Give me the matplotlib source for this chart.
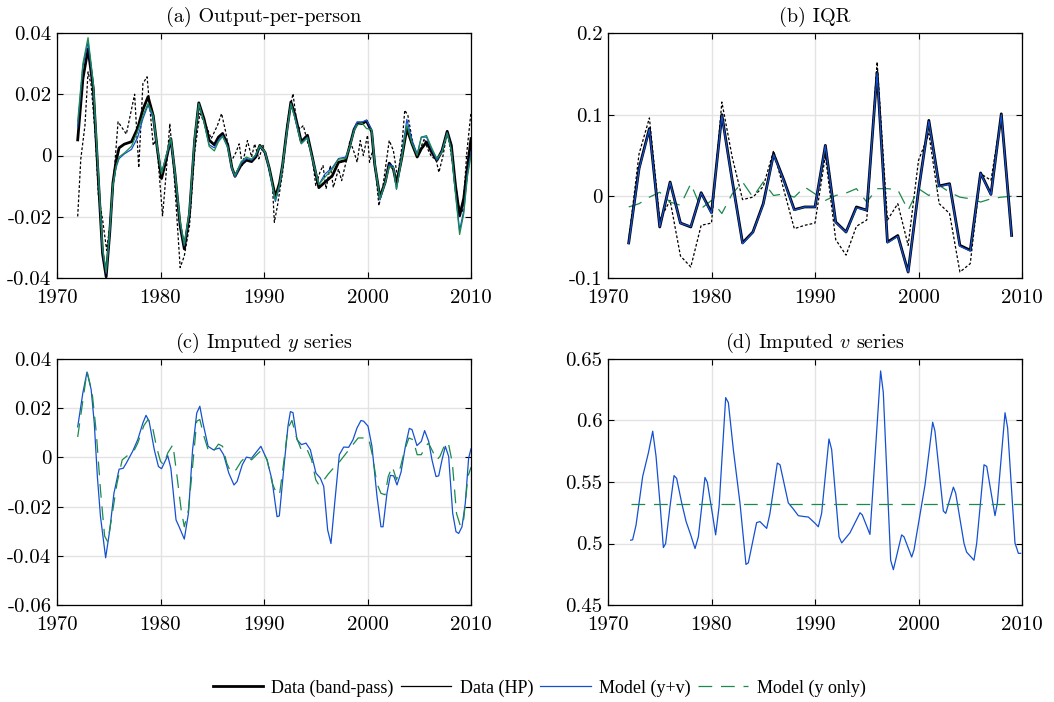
import matplotlib
matplotlib.use("Agg")
import matplotlib.pyplot as plt
from matplotlib.lines import Line2D
from matplotlib.ticker import MultipleLocator, FuncFormatter

plt.rcParams['font.family'] = ['cmr10', 'DejaVu Serif']
plt.rcParams['mathtext.fontset'] = 'cm'
plt.rcParams['axes.unicode_minus'] = False

# ---------------- Panel (a): Output-per-person ----------------
a_x = [1972.0, 1972.5, 1973.0, 1973.5, 1974.0, 1974.4, 1974.75, 1975.1, 1975.4, 1975.7,
       1976.0, 1976.5, 1977.2, 1977.8, 1978.3, 1978.8, 1979.3, 1979.7, 1980.1, 1980.5,
       1981.0, 1981.4, 1981.9, 1982.3, 1982.8, 1983.3, 1983.7, 1984.2, 1984.7, 1985.2,
       1985.6, 1986.0, 1986.5, 1986.9, 1987.2, 1987.8, 1988.3, 1988.8, 1989.2, 1989.6,
       1990.1, 1990.5, 1991.1, 1991.5, 1991.8, 1992.2, 1992.6, 1993.0, 1993.6, 1994.2,
       1994.6, 1995.3, 1995.9, 1996.6, 1997.2, 1997.9, 1998.3, 1998.7, 1999.0, 1999.5,
       1999.9, 2000.4, 2000.7, 2001.2, 2001.7, 2002.1, 2002.5, 2002.8, 2003.3, 2003.8,
       2004.3, 2004.8, 2005.2, 2005.7, 2006.2, 2006.7, 2007.2, 2007.7, 2008.1, 2008.5,
       2008.9, 2009.3, 2009.65, 2010.0]
a_bandpass = [0.0051, 0.0250, 0.0348, 0.0220, -0.0080, -0.0320, -0.0396, -0.0250, -0.0090, -0.0020,
              0.0025, 0.0037, 0.0045, 0.0090, 0.0150, 0.0192, 0.0130, 0.0020, -0.0075, -0.0020,
              0.0055, -0.0060, -0.0230, -0.0305, -0.0190, 0.0050, 0.0172, 0.0120, 0.0050, 0.0035,
              0.0060, 0.0072, 0.0035, -0.0040, -0.0068, -0.0030, -0.0015, -0.0020, -0.0005, 0.0033,
              0.0010, -0.0040, -0.0135, -0.0090, -0.0030, 0.0080, 0.0175, 0.0132, 0.0045, 0.0066,
              0.0005, -0.0105, -0.0087, -0.0066, -0.0022, -0.0016, 0.0033, 0.0085, 0.0104, 0.0104,
              0.0113, 0.0078, -0.0030, -0.0137, -0.0088, -0.0025, -0.0044, -0.0093, -0.0010, 0.0088,
              0.0038, -0.0005, 0.0022, 0.0044, 0.0011, -0.0016, 0.0016, 0.0079, 0.0033, -0.0098,
              -0.0197, -0.0140, -0.0040, 0.0055]
a_model_yv = [0.0095, 0.0290, 0.0370, 0.0230, -0.0070, -0.0310, -0.0385, -0.0250, -0.0100, -0.0040,
              -0.0010, 0.0005, 0.0020, 0.0060, 0.0120, 0.0165, 0.0120, 0.0020, -0.0055, -0.0010,
              0.0050, -0.0060, -0.0220, -0.0295, -0.0185, 0.0055, 0.0170, 0.0110, 0.0035, 0.0025,
              0.0050, 0.0065, 0.0030, -0.0045, -0.0070, -0.0025, -0.0010, -0.0015, 0.0000, 0.0030,
              0.0010, -0.0045, -0.0150, -0.0100, -0.0035, 0.0075, 0.0170, 0.0125, 0.0040, 0.0060,
              0.0000, -0.0095, -0.0060, -0.0040, -0.0010, -0.0005, 0.0030, 0.0085, 0.0110, 0.0110,
              0.0115, 0.0085, -0.0030, -0.0145, -0.0090, -0.0030, -0.0035, -0.0110, -0.0005, 0.0118,
              0.0050, 0.0005, 0.0060, 0.0060, 0.0020, -0.0015, 0.0015, 0.0075, 0.0020, -0.0120,
              -0.0245, -0.0180, -0.0060, 0.0010]
a_model_y = [0.0110, 0.0300, 0.0385, 0.0240, -0.0060, -0.0300, -0.0380, -0.0240, -0.0095, -0.0035,
             -0.0005, 0.0008, 0.0030, 0.0080, 0.0130, 0.0170, 0.0130, 0.0025, -0.0060, -0.0005,
             0.0057, -0.0055, -0.0215, -0.0290, -0.0180, 0.0060, 0.0168, 0.0110, 0.0030, 0.0015,
             0.0045, 0.0062, 0.0025, -0.0040, -0.0065, -0.0020, -0.0005, -0.0012, 0.0003, 0.0032,
             0.0012, -0.0040, -0.0145, -0.0095, -0.0030, 0.0075, 0.0168, 0.0120, 0.0038, 0.0058,
             0.0000, -0.0095, -0.0070, -0.0045, -0.0012, -0.0010, 0.0030, 0.0080, 0.0100, 0.0105,
             0.0088, 0.0085, -0.0025, -0.0140, -0.0090, -0.0035, -0.0040, -0.0110, -0.0010, 0.0100,
             0.0040, 0.0000, 0.0060, 0.0065, 0.0025, -0.0010, 0.0010, 0.0072, 0.0015, -0.0125,
             -0.0258, -0.0190, -0.0070, 0.0000]

a_hp_x = [1972.0, 1972.3, 1972.7, 1973.0, 1973.3, 1973.7, 1974.0, 1974.4, 1974.8, 1975.1,
          1975.5, 1975.9, 1976.3, 1976.7, 1977.5, 1977.9, 1978.3, 1978.7, 1979.3, 1979.6,
          1980.2, 1980.5, 1980.9, 1981.3, 1981.9, 1982.3, 1982.8, 1983.3, 1983.8, 1984.4,
          1984.9, 1985.5, 1985.9, 1986.3, 1986.8, 1987.3, 1987.6, 1987.9, 1988.4, 1988.8,
          1989.1, 1989.5, 1989.9, 1990.3, 1990.8, 1991.0, 1991.3, 1991.8, 1992.3, 1992.8,
          1993.2, 1993.5, 1993.8, 1994.2, 1994.6, 1995.0, 1995.4, 1995.7, 1996.0, 1996.4,
          1996.7, 1997.2, 1997.5, 1998.0, 1998.3, 1998.7, 1999.0, 1999.3, 1999.6, 2000.0,
          2000.2, 2000.5, 2000.8, 2001.1, 2001.5, 2001.9, 2002.1, 2002.5, 2002.9, 2003.3,
          2003.6, 2003.9, 2004.3, 2004.7, 2005.1, 2005.5, 2005.8, 2006.2, 2006.6, 2006.9,
          2007.3, 2007.7, 2008.0, 2008.4, 2008.8, 2009.2, 2009.6, 2010.0]
a_hp = [-0.0199, -0.0011, 0.0098, 0.0273, 0.0230, 0.0066, -0.0131, -0.0208, -0.0310, -0.0230,
        -0.0066, 0.0110, 0.0090, 0.0070, 0.0200, -0.0040, 0.0235, 0.0257, 0.0033, 0.0055,
        -0.0197, -0.0077, 0.0104, -0.0055, -0.0366, -0.0328, -0.0230, 0.0011, 0.0137, 0.0098,
        0.0055, 0.0098, 0.0137, 0.0077, -0.0022, 0.0011, 0.0038, -0.0033, 0.0049, -0.0005,
        0.0038, -0.0011, 0.0033, -0.0022, -0.0087, -0.0218, -0.0164, -0.0055, 0.0120, 0.0202,
        0.0098, 0.0087, 0.0098, 0.0044, 0.0011, -0.0098, -0.0055, -0.0033, -0.0109, -0.0033,
        -0.0104, -0.0044, -0.0082, -0.0011, 0.0049, 0.0011, -0.0022, 0.0049, 0.0000, 0.0066,
        -0.0022, 0.0016, -0.0055, -0.0164, -0.0098, 0.0000, 0.0049, 0.0016, -0.0071, 0.0022,
        0.0148, 0.0131, 0.0055, 0.0000, 0.0022, 0.0055, 0.0022, -0.0005, -0.0011, -0.0055,
        0.0000, 0.0077, 0.0022, -0.0066, -0.0164, -0.0186, 0.0011, 0.0142]

# ---------------- Panel (b): IQR (annual) ----------------
b_years = list(range(1972, 2010))
b_bandpass = [-0.057, 0.034, 0.083, -0.0375, 0.0175, -0.0327, -0.0375, 0.0045, -0.020, 0.100,
              0.0196, -0.057, -0.0437, -0.009, 0.052, 0.0196, -0.0163, -0.013, -0.013, 0.0624,
              -0.0314, -0.0437, -0.013, -0.017, 0.152, -0.056, -0.048, -0.0927, 0.0073, 0.093,
              0.0127, 0.0155, -0.060, -0.066, 0.0286, 0.0024, 0.101, -0.048]
b_model_yv = [-0.058, 0.033, 0.082, -0.0370, 0.0170, -0.0330, -0.0370, 0.0040, -0.021, 0.099,
              0.0190, -0.058, -0.0440, -0.010, 0.051, 0.0190, -0.0170, -0.013, -0.013, 0.0620,
              -0.0320, -0.0440, -0.014, -0.017, 0.151, -0.057, -0.049, -0.0930, 0.0070, 0.092,
              0.0120, 0.0150, -0.061, -0.067, 0.0280, 0.0020, 0.100, -0.049]
b_hp = [-0.054, 0.052, 0.096, -0.029, -0.005, -0.073, -0.0865, -0.0355, -0.0327, 0.1155,
        0.048, -0.004, -0.001, 0.012, 0.056, 0.0073, -0.0396, -0.0355, -0.0327, 0.050,
        -0.053, -0.072, -0.0367, -0.029, 0.1645, -0.029, -0.009, -0.060, 0.044, 0.0767,
        -0.009, -0.021, -0.0927, -0.0824, 0.0278, 0.0196, 0.099, -0.046]
b_model_y = [-0.013, -0.009, -0.001, 0.005, -0.007, -0.011, 0.0155, -0.015, -0.005, -0.021,
             0.003, 0.0176, -0.001, 0.0176, 0.001, 0.003, -0.001, 0.0114, 0.003, -0.005,
             0.001, 0.004, 0.0094, -0.007, 0.0094, 0.0094, 0.008, -0.017, 0.0094, 0.001,
             0.0135, 0.005, -0.001, -0.003, -0.007, -0.003, -0.001, 0.000]

# ---------------- Panel (c): Imputed y series ----------------
c_yv_x = [1972.0, 1972.5, 1972.9, 1973.3, 1973.6, 1973.9, 1974.2, 1974.7, 1975.1, 1975.5,
          1976.0, 1976.4, 1976.7, 1977.3, 1977.8, 1978.3, 1978.6, 1978.9, 1979.4, 1979.8,
          1980.1, 1980.7, 1981.0, 1981.5, 1981.8, 1982.3, 1982.7, 1983.1, 1983.5, 1983.8,
          1984.1, 1984.6, 1985.1, 1985.7, 1986.1, 1986.6, 1987.1, 1987.4, 1987.9, 1988.3,
          1988.8, 1989.3, 1989.7, 1990.29, 1990.77, 1991.26, 1991.48, 1991.9, 1992.32, 1992.55,
          1992.8, 1993.19, 1993.61, 1994.06, 1994.48, 1995.02, 1995.44, 1995.77, 1996.15, 1996.47,
          1996.83, 1997.28, 1997.7, 1998.18, 1998.6, 1998.99, 1999.37, 1999.63, 2000.05, 2000.43,
          2000.92, 2001.3, 2001.5, 2001.88, 2002.21, 2002.53, 2002.85, 2003.24, 2003.66, 2004.04,
          2004.3, 2004.78, 2005.2, 2005.52, 2005.91, 2006.23, 2006.62, 2006.88, 2007.2, 2007.52,
          2007.84, 2008.23, 2008.55, 2008.81, 2009.13, 2009.45, 2009.77, 2010.0]
c_yv = [0.0124, 0.0263, 0.0347, 0.0276, 0.0140, -0.0078, -0.0240, -0.0408, -0.0295, -0.0146,
        -0.0048, -0.0044, -0.0023, 0.0024, 0.0072, 0.0140, 0.0171, 0.0147, 0.0031, -0.0037,
        -0.0046, 0.0007, -0.0044, -0.0254, -0.0282, -0.0332, -0.0227, 0.0031, 0.0180, 0.0208,
        0.0140, 0.0045, 0.0031, 0.0038, 0.0011, -0.0064, -0.0112, -0.0098, -0.0030, 0.0001,
        -0.0003, 0.0024, 0.0045, -0.0010, -0.0091, -0.0241, -0.0238, -0.0050, 0.0128, 0.0186,
        0.0182, 0.0072, 0.0052, 0.0058, 0.0031, -0.0064, -0.0084, -0.0118, -0.0295, -0.0350,
        -0.0186, 0.0011, 0.0042, 0.0041, 0.0072, 0.0120, 0.0150, 0.0147, 0.0127, 0.0045,
        -0.0159, -0.0282, -0.0282, -0.0146, -0.0073, -0.0075, -0.0112, -0.0060, 0.0045, 0.0118,
        0.0113, 0.0048, 0.0065, 0.0109, 0.0065, -0.0010, -0.0078, -0.0075, -0.0010, 0.0045,
        0.0004, -0.0227, -0.0302, -0.0309, -0.0282, -0.0186, -0.0003, 0.0035]
c_y_x = [1972.0, 1972.9, 1973.4, 1973.8, 1974.2, 1974.6, 1974.9, 1975.3, 1975.8, 1976.3,
         1976.8, 1977.4, 1977.8, 1978.4, 1978.8, 1979.2, 1979.6, 1980.0, 1980.3, 1980.7,
         1981.2, 1981.6, 1982.0, 1982.3, 1982.7, 1983.1, 1983.5, 1983.8, 1984.2, 1984.6,
         1985.0, 1985.6, 1986.0, 1986.4, 1986.8, 1987.3, 1987.8, 1988.3, 1988.8, 1989.3,
         1989.8, 1990.3, 1990.8, 1991.2, 1991.5, 1991.9, 1992.3, 1992.7, 1993.1, 1993.6,
         1994.1, 1994.6, 1995.0, 1995.3, 1995.8, 1996.2, 1996.7, 1997.2, 1997.7, 1998.2,
         1998.7, 1999.1, 1999.6, 2000.1, 2000.5, 2000.9, 2001.3, 2001.7, 2002.0, 2002.4,
         2002.8, 2003.2, 2003.6, 2004.0, 2004.4, 2004.8, 2005.2, 2005.6, 2005.9, 2006.3,
         2006.7, 2007.0, 2007.4, 2007.8, 2008.2, 2008.6, 2009.0, 2009.3, 2009.7, 2010.0]
c_y = [0.0083, 0.0350, 0.0262, 0.0099, -0.0132, -0.0320, -0.0343, -0.0240, -0.0105, -0.0010,
       0.0007, 0.0024, 0.0058, 0.0130, 0.0154, 0.0130, 0.0045, -0.0016, -0.0030, 0.0018,
       0.0052, -0.0078, -0.0214, -0.0282, -0.0214, -0.0037, 0.0147, 0.0154, 0.0086, 0.0031,
       0.0018, 0.0054, 0.0045, -0.0023, -0.0061, -0.0050, -0.0016, 0.0004, -0.0010, 0.0011,
       0.0031, -0.0010, -0.0105, -0.0146, -0.0152, -0.0023, 0.0118, 0.0150, 0.0086, 0.0031,
       0.0038, -0.0010, -0.0091, -0.0112, -0.0091, -0.0068, -0.0044, -0.0023, 0.0004, 0.0031,
       0.0058, 0.0079, 0.0079, 0.0079, 0.0004, -0.0105, -0.0146, -0.0152, -0.0078, -0.0037,
       -0.0091, -0.0037, 0.0031, 0.0079, 0.0072, 0.0011, 0.0011, 0.0045, 0.0058, 0.0024,
       -0.0010, 0.0004, 0.0045, 0.0061, -0.0023, -0.0228, -0.0282, -0.0250, -0.0078, -0.0040]

# ---------------- Panel (d): Imputed v series ----------------
d_x = [1972.19, 1972.38, 1972.71, 1973.35, 1973.90, 1974.32, 1974.64, 1975.02, 1975.35, 1975.57,
       1975.99, 1976.38, 1976.63, 1977.12, 1977.54, 1977.99, 1978.41, 1978.73, 1979.37, 1979.60,
       1980.08, 1980.40, 1980.73, 1981.37, 1981.63, 1982.11, 1982.75, 1983.33, 1983.56, 1984.36,
       1984.68, 1985.33, 1985.65, 1986.36, 1986.62, 1987.42, 1987.91, 1988.39, 1988.87, 1989.36,
       1990.00, 1990.32, 1990.64, 1991.35, 1991.61, 1992.32, 1992.58, 1993.38, 1994.35, 1994.57,
       1995.31, 1996.34, 1996.60, 1997.31, 1997.57, 1998.37, 1998.60, 1999.34, 1999.57, 2000.63,
       2001.37, 2001.59, 2002.40, 2002.63, 2003.37, 2003.59, 2004.40, 2004.65, 2005.36, 2005.62,
       2006.33, 2006.59, 2007.39, 2007.62, 2008.36, 2008.61, 2009.32, 2009.65, 2009.87]
d_yv = [0.5027, 0.5030, 0.5150, 0.5545, 0.5736, 0.5913, 0.5710, 0.5330, 0.4967, 0.5000,
        0.5300, 0.5552, 0.5530, 0.5330, 0.5180, 0.5070, 0.4959, 0.5054, 0.5537, 0.5497,
        0.5245, 0.5070, 0.5300, 0.6186, 0.6145, 0.5763, 0.5330, 0.4830, 0.4843, 0.5170,
        0.5178, 0.5123, 0.5245, 0.5654, 0.5640, 0.5330, 0.5280, 0.5226, 0.5220, 0.5215,
        0.5165, 0.5136, 0.5245, 0.5850, 0.5763, 0.5054, 0.5005, 0.5087, 0.5250, 0.5232,
        0.5074, 0.6403, 0.6226, 0.4864, 0.4787, 0.5070, 0.5054, 0.4890, 0.4950, 0.5477,
        0.5986, 0.5913, 0.5264, 0.5245, 0.5458, 0.5410, 0.5000, 0.4930, 0.4864, 0.5000,
        0.5640, 0.5627, 0.5226, 0.5330, 0.6063, 0.5940, 0.5005, 0.4920, 0.4920]
d_y_x = [1972.19, 2010.0]
d_y = [0.5324, 0.5324]

# ---------------- Styling ----------------
BLUE = '#1450d2'
GREEN = '#1b8a4c'
TITLE_FS = 14.5
TICK_FS = 15

W, H = 1054, 702
fig = plt.figure(figsize=(W / 100, H / 100), dpi=100)

def add_ax(l, t, r, b):
    return fig.add_axes([l / W, 1 - b / H, (r - l) / W, (b - t) / H])

axa = add_ax(57, 33, 471, 278)
axb = add_ax(608, 33, 1022, 278)
axc = add_ax(57, 359, 471, 605)
axd = add_ax(608, 359, 1022, 605)

fmt = FuncFormatter(lambda v, p: '0' if abs(v) < 1e-12 else '%g' % round(v, 6))

def style(ax, title, ylim, ystep):
    ax.set_xlim(1970, 2010)
    ax.set_ylim(*ylim)
    ax.xaxis.set_major_locator(MultipleLocator(10))
    ax.yaxis.set_major_locator(MultipleLocator(ystep))
    ax.yaxis.set_major_formatter(fmt)
    ax.xaxis.set_major_formatter(FuncFormatter(lambda v, p: '%d' % round(v)))
    ax.grid(True, color='#e3e3e3', linewidth=1.0)
    ax.set_axisbelow(True)
    ax.tick_params(direction='in', length=4, width=0.8, top=True, right=True,
                   labelsize=TICK_FS)
    ax.tick_params(axis='y', pad=4)
    ax.tick_params(axis='x', pad=8)
    for s in ax.spines.values():
        s.set_linewidth(0.9)
    ax.set_title(title, fontsize=TITLE_FS, pad=8)

hp_style = dict(color='black', linewidth=0.9, linestyle=(0, (2.2, 1.6)))
green_style = dict(color=GREEN, linewidth=0.9, linestyle=(0, (11, 7)))

# (a)
axa.plot(a_x, a_bandpass, color='black', linewidth=2.0)
axa.plot(a_hp_x, a_hp, **hp_style)
axa.plot(a_x, a_model_yv, color=BLUE, linewidth=0.9)
axa.plot(a_x, a_model_y, color=GREEN, linewidth=0.9)
style(axa, '(a) Output-per-person', (-0.04, 0.04), 0.02)

# (b)
axb.plot(b_years, b_hp, **hp_style)
axb.plot(b_years, b_model_y, **green_style)
axb.plot(b_years, b_bandpass, color='black', linewidth=2.0)
axb.plot(b_years, b_model_yv, color=BLUE, linewidth=0.9)
style(axb, '(b) IQR', (-0.1, 0.2), 0.1)

# (c)
axc.plot(c_yv_x, c_yv, color=BLUE, linewidth=0.9)
axc.plot(c_y_x, c_y, **green_style)
style(axc, '(c) Imputed $y$ series', (-0.06, 0.04), 0.02)

# (d)
axd.plot(d_x, d_yv, color=BLUE, linewidth=0.9)
axd.plot(d_y_x, d_y, **green_style)
style(axd, '(d) Imputed $v$ series', (0.45, 0.65), 0.05)

handles = [Line2D([], [], color='black', linewidth=2.0),
           Line2D([], [], color='black', linewidth=0.9),
           Line2D([], [], color=BLUE, linewidth=0.9),
           Line2D([], [], **green_style)]
labels = ['Data (band-pass)', 'Data (HP)', 'Model (y+v)', 'Model (y only)']
fig.legend(handles, labels, loc='center', bbox_to_anchor=(539 / W, 1 - 688 / H),
           ncol=4, frameon=False, prop={'family': 'Liberation Serif', 'size': 13},
           handlelength=2.8, handletextpad=0.45, columnspacing=0.4)

fig.savefig('out.png', dpi=100)
